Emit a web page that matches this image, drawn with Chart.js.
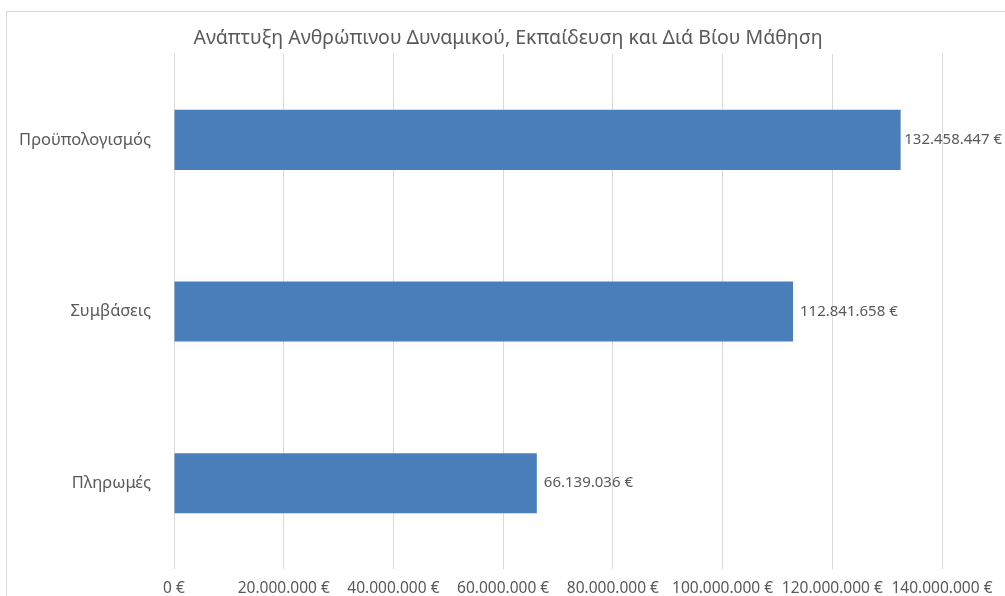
<!DOCTYPE html>
<html>
<head>
<meta charset="utf-8">
<script src="https://cdn.jsdelivr.net/npm/chart.js@4/dist/chart.umd.min.js"></script>
<style>
  html, body { margin: 0; padding: 0; background: #fff; }
  #frame {
    position: absolute; left: 6px; top: 11px; width: 1010px; height: 600px;
    border: 1px solid #d9d9d9; box-sizing: border-box;
  }
  #wrap { position: absolute; left: 0; top: 0; width: 1005px; height: 596px; }
</style>
</head>
<body>
<div id="frame"></div>
<div id="wrap"><canvas id="chart" width="1005" height="596"></canvas></div>
<script>
// data
const categories = ['Προϋπολογισμός', 'Συμβάσεις', 'Πληρωμές'];
const amounts = [132458447, 112841658, 66139036];
const axisTicks = [0, 20000000, 40000000, 60000000, 80000000, 100000000, 120000000, 140000000];
const chartTitle = 'Ανάπτυξη Ανθρώπινου Δυναμικού, Εκπαίδευση και Διά Βίου Μάθηση';

const textColor = '#595959';
const fontFamily = '"Noto Sans", "DejaVu Sans", sans-serif';

function euro(n) {
  // 132458447 -> 132.458.447 €
  return String(Math.round(n)).replace(/\B(?=(\d{3})+(?!\d))/g, '.') + ' €';
}

// value next to the end of each bar + title centred on the whole frame
const extras = {
  id: 'extras',
  afterDatasetsDraw(chart) {
    const ctx = chart.ctx;
    const meta = chart.getDatasetMeta(0);
    ctx.save();
    ctx.font = '15px ' + fontFamily;
    ctx.fillStyle = textColor;
    ctx.textAlign = 'left';
    ctx.textBaseline = 'middle';
    meta.data.forEach((bar, i) => {
      const txt = euro(amounts[i]);
      // keep the label inside the picture, like Excel does
      const x = Math.min(bar.x + 7, chart.width - 3 - ctx.measureText(txt).width);
      ctx.fillText(txt, x, bar.y);
    });
    ctx.font = '19.5px ' + fontFamily;
    ctx.textAlign = 'center';
    ctx.fillText(chartTitle, 508, 38);
    ctx.restore();
  }
};

new Chart(document.getElementById('chart'), {
  type: 'bar',
  data: {
    labels: categories,
    datasets: [{
      data: amounts,
      backgroundColor: '#4a7ebb',
      barPercentage: 0.35,
      categoryPercentage: 1
    }]
  },
  plugins: [extras],
  options: {
    indexAxis: 'y',
    responsive: false,
    animation: false,
    devicePixelRatio: 1,
    layout: { padding: { left: 0, right: 63, top: 54, bottom: 0 } },
    plugins: {
      legend: { display: false },
      tooltip: { enabled: false },
      title: { display: false }
    },
    scales: {
      x: {
        min: 0,
        max: 140000000,
        afterBuildTicks: (scale) => { scale.ticks = axisTicks.map(v => ({ value: v })); },
        afterFit: (scale) => { scale.height = 27; },
        ticks: {
          color: textColor,
          font: { family: fontFamily, size: 15.5 },
          padding: 10,
          maxRotation: 0,
          autoSkip: false,
          callback: (v) => euro(v)
        },
        grid: { color: '#d9d9d9', drawTicks: false },
        border: { display: false }
      },
      y: {
        afterFit: (scale) => { scale.width = 174; },
        ticks: {
          color: textColor,
          font: { family: fontFamily, size: 16.5 },
          padding: 15
        },
        grid: { display: false },
        border: { display: false }
      }
    }
  }
});
</script>
</body>
</html>
